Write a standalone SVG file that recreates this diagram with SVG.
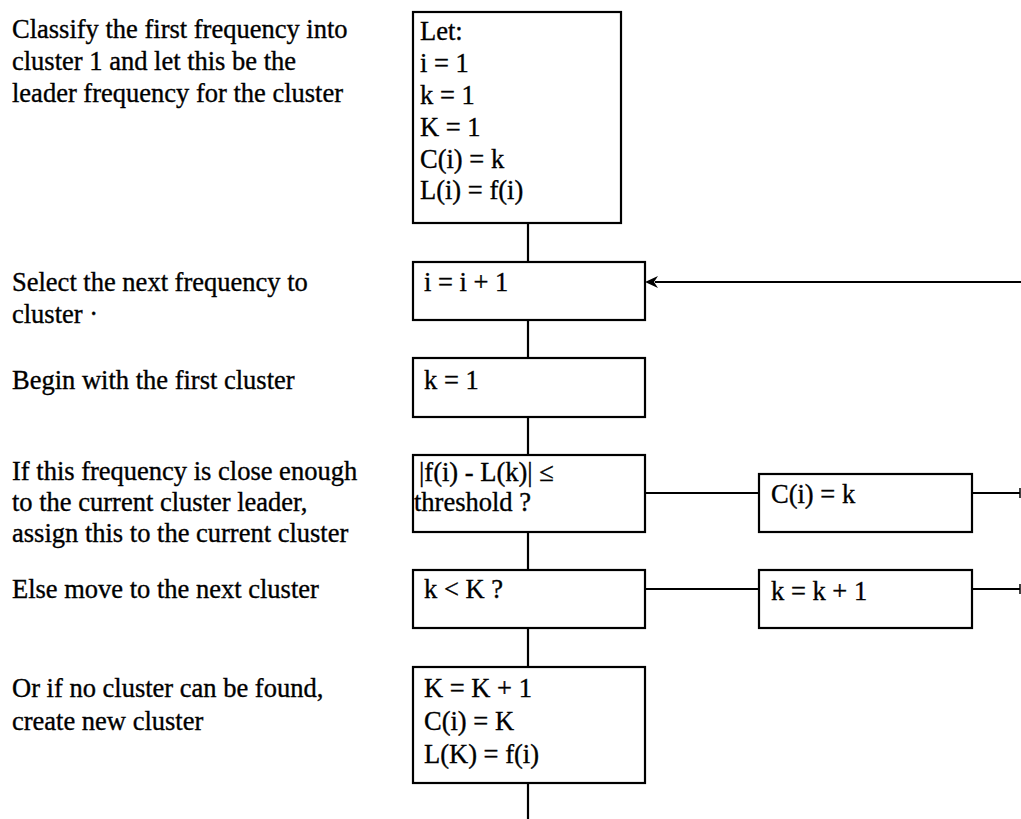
<svg xmlns="http://www.w3.org/2000/svg" width="1021" height="819" viewBox="0 0 1021 819">
<style>
text{font-family:"Liberation Serif","Times New Roman",serif;font-size:26.5px;fill:#000;stroke:#000;stroke-width:0.35}
.box{fill:#fff;stroke:#000;stroke-width:2.2}
.con{stroke:#000;stroke-width:2.2;fill:none}
.tick{stroke:#000;stroke-width:1.5}
</style>
<rect width="1021" height="819" fill="#fff"/>
<g id="labels">
<text x="12" y="38">Classify the first frequency into</text>
<text x="12" y="70">cluster 1 and let this be the</text>
<text x="12" y="102">leader frequency for the cluster</text>
<text x="12" y="291">Select the next frequency to</text>
<text x="12" y="323">cluster ·</text>
<text x="12" y="389">Begin with the first cluster</text>
<text x="12" y="480">If this frequency is close enough</text>
<text x="12" y="511">to the current cluster leader,</text>
<text x="12" y="542">assign this to the current cluster</text>
<text x="12" y="598">Else move to the next cluster</text>
<text x="12" y="697">Or if no cluster can be found,</text>
<text x="12" y="730">create new cluster</text>
</g>
<g id="connectors">
<line class="con" x1="528" y1="223" x2="528" y2="262"/>
<line class="con" x1="528" y1="320" x2="528" y2="358"/>
<line class="con" x1="528" y1="417" x2="528" y2="455"/>
<line class="con" x1="528" y1="532" x2="528" y2="570"/>
<line class="con" x1="528" y1="628" x2="528" y2="667"/>
<line class="con" x1="528" y1="783" x2="528" y2="819"/>
<line class="con" x1="1021" y1="282" x2="655" y2="282"/>
<path d="M645,282 L658,276 L654,282 L658,288 Z" fill="#000"/>
<line class="con" x1="645" y1="493" x2="759" y2="493"/>
<line class="con" x1="972" y1="493" x2="1020" y2="493"/>
<line class="tick" x1="1020" y1="488" x2="1020" y2="498"/>
<line class="con" x1="645" y1="589" x2="759" y2="589"/>
<line class="con" x1="972" y1="589" x2="1020" y2="589"/>
<line class="tick" x1="1020" y1="584" x2="1020" y2="594"/>
</g>
<g id="n_init">
<rect class="box" x="413" y="12" width="208" height="211"/>
<text x="420" y="40">Let:</text>
<text x="420" y="72">i = 1</text>
<text x="420" y="104">k = 1</text>
<text x="420" y="136">K = 1</text>
<text x="420" y="168">C(i) = k</text>
<text x="420" y="199">L(i) = f(i)</text>
</g>
<g id="n_next_i">
<rect class="box" x="413" y="262" width="232" height="58"/>
<text x="424" y="291">i = i + 1</text>
</g>
<g id="n_k1">
<rect class="box" x="413" y="358" width="232" height="59"/>
<text x="424" y="389">k = 1</text>
</g>
<g id="n_thresh">
<rect class="box" x="413" y="455" width="232" height="77"/>
<text x="419" y="481">|f(i) - L(k)| ≤</text>
<text x="414" y="511">threshold ?</text>
</g>
<g id="n_assign">
<rect class="box" x="759" y="474" width="213" height="58"/>
<text x="771" y="503">C(i) = k</text>
</g>
<g id="n_kK">
<rect class="box" x="413" y="570" width="232" height="58"/>
<text x="424" y="598">k &lt; K ?</text>
</g>
<g id="n_kinc">
<rect class="box" x="759" y="570" width="213" height="58"/>
<text x="771" y="600">k = k + 1</text>
</g>
<g id="n_new">
<rect class="box" x="413" y="667" width="232" height="116"/>
<text x="424" y="697">K = K + 1</text>
<text x="424" y="730">C(i) = K</text>
<text x="424" y="763">L(K) = f(i)</text>
</g>
</svg>
